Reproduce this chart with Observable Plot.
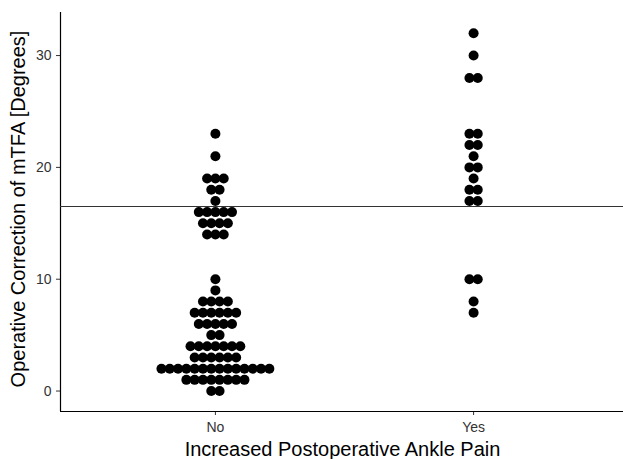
<!DOCTYPE html>
<html><head><meta charset="utf-8">
<script src="https://cdn.jsdelivr.net/npm/d3@7"></script>
<script src="https://cdn.jsdelivr.net/npm/@observablehq/plot@0.6"></script>
<style>body{margin:0;background:#fff;} #chart svg{display:block;}</style>
</head><body><div id="chart"></div>
<script>
// Categories
const groups = ["No", "Yes"];
// Operative correction values (degrees) and number of patients at each value
const noLevels  = [0, 1, 2, 3, 4, 5, 6, 7, 8, 9, 10, 14, 15, 16, 17, 18, 19, 21, 23];
const noCounts  = [2, 8, 14, 6, 7, 2, 5, 6, 4, 1, 1, 3, 4, 5, 1, 2, 3, 1, 1];
const yesLevels = [7, 8, 10, 17, 18, 19, 20, 21, 22, 23, 28, 30, 32];
const yesCounts = [1, 1, 2, 2, 2, 1, 2, 1, 2, 2, 2, 1, 1];
const threshold = 16.5;
const yTicks = [0, 10, 20, 30];
const xTitle = "Increased Postoperative Ankle Pain";
const yTitle = "Operative Correction of mTFA [Degrees]";

const W = 623, H = 459;
const mL = 60, mR = -5, mT = 12, mB = 48;
const xDomain = [0.4, 2.6];
const yDomain = [-1.83, 33.85];
const dotR = 5, dotStep = 8.3; // px
const pxPerUnit = (W - mL - mR) / (xDomain[1] - xDomain[0]);

const dots = [];
[[noLevels, noCounts], [yesLevels, yesCounts]].forEach(([levels, counts], gi) => {
  levels.forEach((v, i) => {
    const n = counts[i];
    for (let k = 0; k < n; k++) {
      dots.push({group: groups[gi], pos: gi + 1 + (k - (n - 1) / 2) * dotStep / pxPerUnit, value: v});
    }
  });
});

const font = "'Liberation Sans', Arial, Helvetica, sans-serif";
const chart = Plot.plot({
  width: W, height: H,
  marginLeft: mL, marginRight: mR, marginTop: mT, marginBottom: mB,
  style: {fontFamily: font, background: "#fff", overflow: "hidden"},
  x: {type: "linear", domain: xDomain},
  y: {type: "linear", domain: yDomain},
  marks: [
    Plot.axisX({ticks: [1, 2], tickFormat: d => groups[d - 1], tickSize: 4, tickPadding: 7, fontSize: 14, color: "#333", label: null}),
    Plot.axisY({ticks: yTicks, tickSize: 4, tickPadding: 5, fontSize: 14, color: "#333", label: null}),
    Plot.ruleX([xDomain[0]], {stroke: "#000", strokeWidth: 1.2}),
    Plot.ruleY([yDomain[0]], {stroke: "#000", strokeWidth: 1.2}),
    Plot.ruleY([threshold], {stroke: "#333", strokeWidth: 1.1}),
    Plot.dot(dots, {x: "pos", y: "value", r: dotR, fill: "#000", stroke: "none"}),
    Plot.text([xTitle], {frameAnchor: "bottom", dy: 38, textAnchor: "middle", lineAnchor: "middle", fontSize: 20, fill: "#000", dx: -2}),
    Plot.text([yTitle], {frameAnchor: "left", rotate: -90, dx: -42, dy: -3, textAnchor: "middle", lineAnchor: "middle", fontSize: 20, fill: "#000"})
  ]
});
document.getElementById("chart").appendChild(chart);
</script>
</body></html>
